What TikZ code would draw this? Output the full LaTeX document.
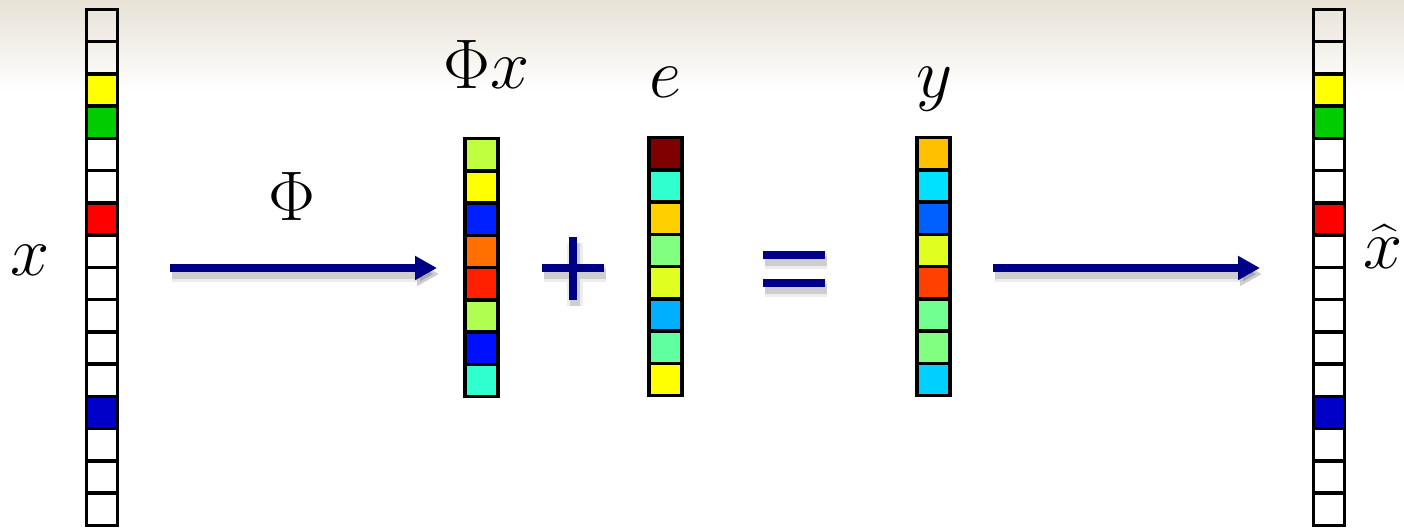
\RequirePackage{fix-cm}
\documentclass[tikz,border=0pt]{standalone}
\usepackage{amsmath}
\usetikzlibrary{arrows.meta}

\definecolor{navy}{RGB}{0,0,135}
\definecolor{band}{RGB}{232,226,214}
% sparse signal
\definecolor{xyel}{RGB}{255,255,0}
\definecolor{xgrn}{RGB}{0,204,0}
\definecolor{xred}{RGB}{255,0,0}
\definecolor{xblu}{RGB}{0,0,200}
% measurements Phi x
\definecolor{pa}{RGB}{192,255,64}
\definecolor{pb}{RGB}{255,255,0}
\definecolor{pc}{RGB}{0,32,255}
\definecolor{pd}{RGB}{255,112,0}
\definecolor{pe}{RGB}{255,32,0}
\definecolor{pf}{RGB}{176,255,80}
\definecolor{pg}{RGB}{0,16,255}
\definecolor{ph}{RGB}{48,255,208}
% noise e
\definecolor{ea}{RGB}{128,0,0}
\definecolor{eb}{RGB}{48,255,208}
\definecolor{ec}{RGB}{255,208,0}
\definecolor{ed}{RGB}{128,255,128}
\definecolor{ee}{RGB}{224,255,32}
\definecolor{ef}{RGB}{0,176,255}
\definecolor{eg}{RGB}{96,255,160}
\definecolor{eh}{RGB}{255,255,0}
% observations y
\definecolor{ya}{RGB}{255,192,0}
\definecolor{yb}{RGB}{0,224,255}
\definecolor{yc}{RGB}{0,96,255}
\definecolor{yd}{RGB}{224,255,32}
\definecolor{ye}{RGB}{255,64,0}
\definecolor{yf}{RGB}{112,255,144}
\definecolor{yg}{RGB}{128,255,128}
\definecolor{yh}{RGB}{0,208,255}

% column of cells: left x, top y, cell width, list of fills
\newcommand{\vcolumn}[4]{%
  \foreach \c [count=\i from 0] in {#4}
    \draw[cell,fill=\c] (#1,#2+32.25*\i) rectangle ++(#3,32.25);
}

\begin{document}
\begin{tikzpicture}[
    x=0.02cm, y=-0.02cm,
    line join=miter,
    cell/.style={draw=black,line width=2pt},
    op/.style={draw=navy,line width=4.6pt},
    opshadow/.style={draw=black,opacity=.07,line width=9pt,
        transform canvas={shift={(2,6)}}},
    opshade/.style={draw=black,opacity=.13,line width=5.5pt,
        transform canvas={shift={(2,6)}}},
    tip/.style={-{Triangle[length=12.5pt,width=13pt]}},
    big/.style={font=\fontsize{40}{48}\selectfont,inner sep=0pt}
]
    \useasboundingbox (0,0) rectangle (1404,531);
    % pale band along the top edge
    \shade[top color=band,bottom color=white] (0,0) rectangle (1404,92);

    % the sparse vector and its recovery
    \vcolumn{86.5}{9.3}{31}{none,none,xyel,xgrn,none,none,xred,none,
        none,none,none,none,xblu,none,none,none}
    \vcolumn{1313.5}{9.3}{31}{none,none,xyel,xgrn,none,none,xred,none,
        none,none,none,none,xblu,none,none,none}
    % short vectors
    \vcolumn{465}{138.7}{33}{pa,pb,pc,pd,pe,pf,pg,ph}
    \vcolumn{649}{137.7}{33}{ea,eb,ec,ed,ee,ef,eg,eh}
    \vcolumn{917}{137.7}{33}{ya,yb,yc,yd,ye,yf,yg,yh}

    \coordinate (phiS) at (170,268);
    \coordinate (phiE) at (437,268);
    \coordinate (recS) at (993,268);
    \coordinate (recE) at (1260,268);

    % operators, each with a soft shadow
    \foreach \s in {opshadow,opshade} {
        \draw[\s,tip] (phiS) -- (phiE);
        \draw[\s,tip] (recS) -- (recE);
        \draw[\s] (542,268) -- (604,268) (573,237) -- (573,300);
        \draw[\s] (763,255) -- (825,255) (763,283) -- (825,283);
    }
    \draw[op,tip] (phiS) -- (phiE);
    \draw[op,tip] (recS) -- (recE);
    \draw[op] (542,268) -- (604,268) (573,237) -- (573,300);
    \draw[op] (763,255) -- (825,255) (763,283) -- (825,283);

    \node[big,anchor=base] (lx) at (30,275) {$x$};
    \node[big,anchor=base] (lphi) at (292,220) {$\Phi$};
    \node[big,anchor=base] (lphix) at (487,88) {$\Phi x$};
    \node[big,anchor=base] (le) at (665,97) {$e$};
    \node[big,anchor=base] (ly) at (935,97) {$y$};
    \node[big,anchor=base] (lxhat) at (1383,268) {$\widehat{x}$};
\end{tikzpicture}
\end{document}
